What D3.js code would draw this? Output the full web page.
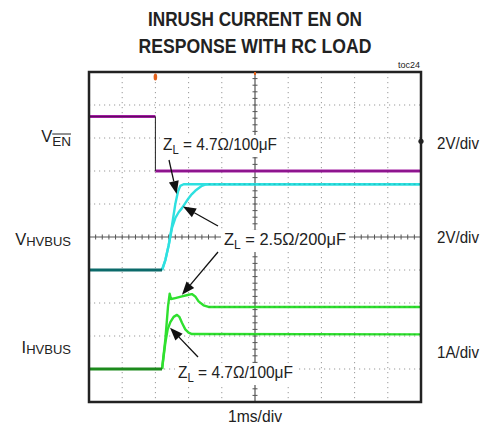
<!DOCTYPE html>
<html><head><meta charset="utf-8">
<script src="https://cdn.jsdelivr.net/npm/d3@7"></script>
<style>
html,body{margin:0;padding:0;background:#fff;}
svg{display:block;}
text{font-family:"Liberation Sans Narrow","Arial Narrow","Liberation Sans",Arial,sans-serif;fill:#222;}
</style></head>
<body>
<svg id="c" width="483" height="434"></svg>
<script>
// ---- data (time in ms, 1 ms/div) ----
const titleLines = ["INRUSH CURRENT EN ON", "RESPONSE WITH RC LOAD"];
const timeLabel = "1ms/div";
const channelNames = ["V_EN", "V_HVBUS", "I_HVBUS"];
const channelScales = ["2V/div", "2V/div", "1A/div"];
const channelOffsetDiv = [2, -1, -4];     // ground reference positions (div from center)
const channelUnitsPerDiv = [2, 2, 1];

// V_EN (V)
const venT = [0, 2.0, 2.0, 10];
const venV = [3.3, 3.3, 0, 0];

// V_HVBUS, ZL = 4.7Ω/100µF (fast)
const vFastT = [0, 2.2, 2.3, 2.4, 2.5, 2.6, 2.68, 2.75, 2.85, 10];
const vFastV = [0, 0, 0.6, 1.5, 2.7, 4.0, 4.75, 5.1, 5.2, 5.2];
// V_HVBUS, ZL = 2.5Ω/200µF (slow)
const vSlowT = [0, 2.2, 2.3, 2.4, 2.5, 2.6, 2.7, 2.8, 2.9, 3.0, 3.1, 3.2, 3.3, 3.4, 3.5, 3.6, 10];
const vSlowV = [0, 0, 0.6, 1.5, 2.55, 3.15, 3.5, 3.75, 4.05, 4.35, 4.6, 4.8, 4.95, 5.1, 5.18, 5.2, 5.2];

// I_HVBUS, ZL = 2.5Ω/200µF (A)
const iHighT = [0, 2.2, 2.3, 2.38, 2.43, 2.47, 2.6, 2.8, 3.0, 3.1, 3.2, 3.3, 3.45, 3.6, 10];
const iHighA = [0, 0, 0.9, 1.9, 2.28, 2.12, 2.15, 2.2, 2.25, 2.27, 2.2, 2.05, 1.93, 1.88, 1.88];
// I_HVBUS, ZL = 4.7Ω/100µF
const iLowT = [0, 2.2, 2.3, 2.37, 2.45, 2.55, 2.65, 2.72, 2.8, 2.9, 3.0, 3.1, 10];
const iLowA = [0, 0, 0.8, 1.2, 1.42, 1.58, 1.64, 1.58, 1.4, 1.2, 1.1, 1.06, 1.05];

const annotLabels = ["4.7Ω/100μF", "2.5Ω/200μF", "4.7Ω/100μF"];

// ---- layout ----
const svg = d3.select("#c");
const L = 89, R = 421, T = 72, B = 402;
const x = d3.scaleLinear().domain([0, 10]).range([L, R]);
const yDiv = d3.scaleLinear().domain([-5, 5]).range([B, T]);
const chY = (ch, v) => yDiv(channelOffsetDiv[ch] + v / channelUnitsPerDiv[ch]);

// title
svg.selectAll("text.title").data(titleLines).join("text")
  .attr("class", "title").attr("x", 255).attr("y", (d, i) => 26 + i * 27)
  .attr("text-anchor", "middle").style("font-weight", "bold").style("font-size", "19.5px")
  .attr("textLength", (d, i) => i === 0 ? 214 : 233).attr("lengthAdjust", "spacingAndGlyphs")
  .style("font-family", "'Liberation Sans',Arial,sans-serif")
  .text(d => d);

svg.append("text").attr("x", 420).attr("y", 68).attr("text-anchor", "end")
  .style("font-size", "9px").style("font-family", "'Liberation Sans',Arial,sans-serif").text("toc24");

// grid
const g = svg.append("g");
const divs = d3.range(0, 11);
g.selectAll("line.vg").data(divs.filter(d => d > 0 && d < 10 && d !== 5)).join("line")
  .attr("x1", d => x(d)).attr("x2", d => x(d)).attr("y1", T).attr("y2", B)
  .attr("stroke", "#999").attr("stroke-width", 1).attr("stroke-dasharray", "1.2 3.8");
g.selectAll("line.hg").data(d3.range(-4, 5).filter(d => d !== 0)).join("line")
  .attr("y1", d => yDiv(d)).attr("y2", d => yDiv(d)).attr("x1", L).attr("x2", R)
  .attr("stroke", "#999").attr("stroke-width", 1).attr("stroke-dasharray", "1.2 3.8");
// center crosshair
g.append("line").attr("x1", L).attr("x2", R).attr("y1", yDiv(0)).attr("y2", yDiv(0))
  .attr("stroke", "#555").attr("stroke-width", 1.2);
g.append("line").attr("x1", x(5)).attr("x2", x(5)).attr("y1", T).attr("y2", B)
  .attr("stroke", "#555").attr("stroke-width", 1.2);
const sub = d3.range(0, 50.01, 1).map(d => d / 5);
g.selectAll("line.tx").data(sub).join("line")
  .attr("x1", d => x(d)).attr("x2", d => x(d)).attr("y1", yDiv(0) - 2.5).attr("y2", yDiv(0) + 2.5)
  .attr("stroke", "#555").attr("stroke-width", 1);
g.selectAll("line.ty").data(sub.map(d => d - 5)).join("line")
  .attr("y1", d => yDiv(d)).attr("y2", d => yDiv(d)).attr("x1", x(5) - 2.5).attr("x2", x(5) + 2.5)
  .attr("stroke", "#555").attr("stroke-width", 1);

// annotation label backgrounds
const annotPos = [{x: 163, y: 150, len: 114}, {x: 224, y: 245, len: 122}, {x: 178, y: 378, len: 115}];
annotPos.forEach((p, i) => {
  svg.append("rect").attr("x", p.x - 3).attr("y", p.y - 15).attr("width", p.len + 6).attr("height", 22).attr("fill", "#fff");
});

// traces
const line = d3.line();
function trace(ts, vs, ch, color, w, from, to) {
  const pts = ts.map((t, i) => [t, vs[i]]).filter(p => p[0] >= from && p[0] <= to);
  svg.append("path").attr("d", line(pts.map(p => [x(p[0]), chY(ch, p[1])])))
    .attr("fill", "none").attr("stroke", color).attr("stroke-width", w)
    .attr("stroke-linejoin", "round");
}
// V_EN
trace(venT.slice(0, 2), venV.slice(0, 2), 0, "#a21ca2", 3, 0, 10);
trace(venT.slice(2), venV.slice(2), 0, "#a21ca2", 3, 0, 10);
svg.append("line").attr("x1", x(venT[1])).attr("x2", x(venT[2]))
  .attr("y1", chY(0, venV[1])).attr("y2", chY(0, venV[2])).attr("stroke", "#222").attr("stroke-width", 1);
svg.append("line").attr("x1", x(0)).attr("x2", x(venT[1])).attr("y1", chY(0, venV[0])).attr("y2", chY(0, venV[1]))
  .attr("stroke", "#4a0a4a").attr("stroke-width", 0.8);
svg.append("line").attr("x1", x(venT[2])).attr("x2", x(10)).attr("y1", chY(0, 0)).attr("y2", chY(0, 0))
  .attr("stroke", "#6a0a6a").attr("stroke-width", 0.7);
// V_HVBUS
trace(vSlowT, vSlowV, 1, "#2ee0e0", 2.4, 2.2, 10);
trace(vFastT, vFastV, 1, "#2ee0e0", 2.4, 2.2, 10);
trace(vFastT, vFastV, 1, "#0b6a6a", 3, 0, 2.2);
svg.append("line").attr("x1", x(3.6)).attr("x2", x(10)).attr("y1", chY(1, 5.2)).attr("y2", chY(1, 5.2))
  .attr("stroke", "#1aa9a9").attr("stroke-width", 0.8).attr("stroke-dasharray", "2 3");
// I_HVBUS
trace(iHighT, iHighA, 2, "#2fe02f", 2.4, 2.2, 10);
trace(iLowT, iLowA, 2, "#2fe02f", 2.4, 2.2, 10);
trace(iLowT, iLowA, 2, "#1c8a1c", 3, 0, 2.2);
[1.88, 1.05].forEach(v => svg.append("line").attr("x1", x(3.6)).attr("x2", x(10))
  .attr("y1", chY(2, v)).attr("y2", chY(2, v)).attr("stroke", "#22b022").attr("stroke-width", 0.8).attr("stroke-dasharray", "2 3"));

// frame
svg.append("rect").attr("x", L).attr("y", T).attr("width", R - L).attr("height", B - T)
  .attr("fill", "none").attr("stroke", "#222").attr("stroke-width", 2.5);

// markers
svg.append("ellipse").attr("cx", x(2)).attr("cy", T + 5).attr("rx", 1.8).attr("ry", 3.5).attr("fill", "#e2601a");
svg.append("line").attr("x1", x(5)).attr("x2", x(5)).attr("y1", T).attr("y2", T + 3).attr("stroke", "#e2601a").attr("stroke-width", 2);
svg.append("circle").attr("cx", R).attr("cy", chY(0, 1.8)).attr("r", 2.6).attr("fill", "#222");

// arrows
const arrows = [
  {tail: [169, 160], tip: [2.64, 4.6, 1]},
  {tail: [218, 226], tip: [2.83, 3.85, 1]},
  {tail: [218, 252], tip: [2.8, 2.25, 2]},
  {tail: [198, 357], tip: [2.44, 1.25, 2]}
];
arrows.forEach(a => {
  const tx = x(a.tip[0]), ty = chY(a.tip[2], a.tip[1]);
  const [sx, sy] = a.tail;
  const ang = Math.atan2(ty - sy, tx - sx);
  const hl = 13, hw = 5;
  const bx = tx - hl * Math.cos(ang), by = ty - hl * Math.sin(ang);
  svg.append("line").attr("x1", sx).attr("y1", sy).attr("x2", bx).attr("y2", by)
    .attr("stroke", "#111").attr("stroke-width", 1.3);
  const p1 = [bx + hw * Math.sin(ang), by - hw * Math.cos(ang)];
  const p2 = [bx - hw * Math.sin(ang), by + hw * Math.cos(ang)];
  svg.append("path").attr("d", `M${tx},${ty}L${p1[0]},${p1[1]}L${p2[0]},${p2[1]}Z`).attr("fill", "#111");
});

// annotation text
annotPos.forEach((p, i) => {
  const t = svg.append("text").attr("x", p.x).attr("y", p.y).style("font-size", "17px")
    .attr("textLength", p.len).attr("lengthAdjust", "spacingAndGlyphs");
  t.append("tspan").text("Z");
  t.append("tspan").attr("dy", 4).style("font-size", "12.5px").text("L");
  t.append("tspan").attr("dy", -4).text(" = " + annotLabels[i]);
});

// left channel labels
function chLabel(main, subTxt, baseline, overline) {
  const s = svg.append("text").attr("x", 71).attr("y", baseline + (overline ? 4 : 0.5)).attr("text-anchor", "end")
    .style("font-size", overline ? "13.5px" : "13px").text(subTxt);
  const bb = s.node().getBBox();
  svg.append("text").attr("x", bb.x).attr("y", baseline).attr("text-anchor", "end")
    .style("font-size", "16.5px").text(main);
  if (overline) svg.append("line").attr("x1", bb.x).attr("x2", bb.x + bb.width)
    .attr("y1", baseline - 8).attr("y2", baseline - 8).attr("stroke", "#222").attr("stroke-width", 1);
}
chLabel("V", "EN", 142, true);
chLabel("V", "HVBUS", 245, false);
chLabel("I", "HVBUS", 353, false);

// right scale labels
const rightY = [149, 243, 358];
svg.selectAll("text.rs").data(channelScales).join("text").attr("class", "rs")
  .attr("x", 437).attr("y", (d, i) => rightY[i]).style("font-size", "16px")
  .attr("textLength", 42).attr("lengthAdjust", "spacingAndGlyphs").text(d => d);

svg.append("text").attr("x", 255).attr("y", 422).attr("text-anchor", "middle")
  .style("font-size", "16.5px").attr("textLength", 54).attr("lengthAdjust", "spacingAndGlyphs").text(timeLabel);
</script>
</body></html>
